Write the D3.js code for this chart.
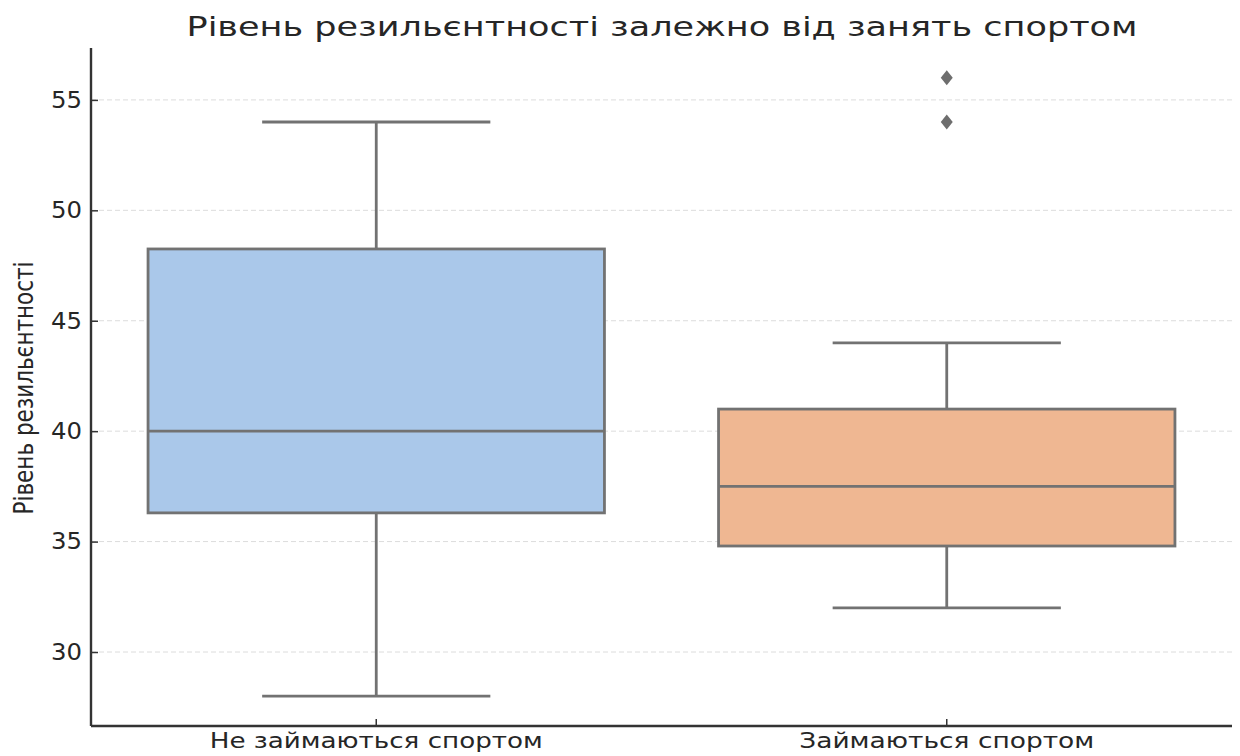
<!DOCTYPE html>
<html>
<head>
<meta charset="utf-8">
<script src="https://cdn.jsdelivr.net/npm/d3@7"></script>
<style>
  html, body { margin: 0; padding: 0; background: #fff; }
  svg { display: block; }
  text { font-family: "DejaVu Sans", sans-serif; fill: #262626; }
</style>
</head>
<body>
<svg id="chart" width="1240" height="756"></svg>
<script>
const title = "Рівень резильєнтності залежно від занять спортом";
const yLabel = "Рівень резильєнтності";
const categories = ["Не займаються спортом", "Займаються спортом"];
const whiskerLow  = [28, 32];
const q1          = [36.3, 34.8];
const median      = [40, 37.5];
const q3          = [48.25, 41];
const whiskerHigh = [54, 44];
const outliers    = [[], [56, 54]];
const boxColors   = ["#aac8ea", "#efb792"];
const yTicks      = [30, 35, 40, 45, 50, 55];
const yDomain     = [26.65, 57.35];

const svg = d3.select("#chart");
const mLeft = 91, mRight = 1232, mTop = 48, mBottom = 726;
const hStretch = 1.25;

const x = d3.scaleBand().domain(categories).range([mLeft, mRight]).padding(0);
const y = d3.scaleLinear().domain(yDomain).range([mBottom, mTop]);

// grid
svg.append("g").selectAll("line").data(yTicks).join("line")
  .attr("x1", mLeft).attr("x2", mRight)
  .attr("y1", d => y(d)).attr("y2", d => y(d))
  .attr("stroke", "#dcdcdc").attr("stroke-width", 1)
  .attr("stroke-dasharray", "5,3");

const edge = "#727272";
const lw = 2.8;
const bw = x.bandwidth() * 0.8;
const data = categories.map((c, i) => ({
  c, lo: whiskerLow[i], q1: q1[i], med: median[i], q3: q3[i], hi: whiskerHigh[i],
  out: outliers[i], color: boxColors[i]
}));

const g = svg.append("g");
data.forEach(d => {
  const cx = x(d.c) + x.bandwidth() / 2;
  g.append("line").attr("x1", cx).attr("x2", cx).attr("y1", y(d.q3)).attr("y2", y(d.hi))
    .attr("stroke", edge).attr("stroke-width", lw);
  g.append("line").attr("x1", cx).attr("x2", cx).attr("y1", y(d.q1)).attr("y2", y(d.lo))
    .attr("stroke", edge).attr("stroke-width", lw);
  [d.hi, d.lo].forEach(v => {
    g.append("line").attr("x1", cx - bw / 4).attr("x2", cx + bw / 4)
      .attr("y1", y(v)).attr("y2", y(v))
      .attr("stroke", edge).attr("stroke-width", lw);
  });
  g.append("rect").attr("x", cx - bw / 2).attr("width", bw)
    .attr("y", y(d.q3)).attr("height", y(d.q1) - y(d.q3))
    .attr("fill", d.color).attr("stroke", edge).attr("stroke-width", lw);
  g.append("line").attr("x1", cx - bw / 2).attr("x2", cx + bw / 2)
    .attr("y1", y(d.med)).attr("y2", y(d.med))
    .attr("stroke", edge).attr("stroke-width", lw);
  d.out.forEach(v => {
    g.append("path")
      .attr("d", `M${cx},${y(v) - 7.5} L${cx + 6},${y(v)} L${cx},${y(v) + 7.5} L${cx - 6},${y(v)} Z`)
      .attr("fill", "#6e6e6e");
  });
});

// axes
const yAxis = svg.append("g").attr("transform", `translate(${mLeft},0)`)
  .call(d3.axisLeft(y).tickValues(yTicks).tickSize(-7).tickPadding(16).tickFormat(d3.format("d")));
yAxis.select(".domain").attr("d", `M0,${mTop}V${mBottom}`).attr("stroke", "#333").attr("stroke-width", 2.4);
yAxis.selectAll(".tick line").attr("stroke", "#333").attr("stroke-width", 1.5);
yAxis.selectAll(".tick text").attr("font-size", 23).attr("fill", "#262626")
  .attr("font-family", "DejaVu Sans").attr("x", -9)
  .attr("textLength", 31).attr("lengthAdjust", "spacingAndGlyphs");

const xAxis = svg.append("g").attr("transform", `translate(0,${mBottom})`)
  .call(d3.axisBottom(x).tickSize(-7).tickPadding(8));
xAxis.select(".domain").attr("d", `M${mLeft},0H${mRight}`).attr("stroke", "#333").attr("stroke-width", 2.4);
xAxis.selectAll(".tick line").attr("stroke", "#333").attr("stroke-width", 1.5);
const xLabelWidths = [333, 295];
xAxis.selectAll(".tick text").attr("font-size", 21).attr("fill", "#262626")
  .attr("font-family", "DejaVu Sans").attr("dy", "0")
  .attr("y", 22)
  .attr("textLength", (d, i) => xLabelWidths[i]).attr("lengthAdjust", "spacingAndGlyphs");

// title
svg.append("text").attr("x", 662).attr("y", 36).attr("text-anchor", "middle")
  .attr("font-size", 27).attr("fill", "#333")
  .attr("textLength", 951).attr("lengthAdjust", "spacingAndGlyphs")
  .text(title);

// y label
svg.append("text")
  .attr("transform", `translate(33,388) scale(${hStretch},1) rotate(-90)`)
  .attr("text-anchor", "middle").attr("font-size", 21).attr("fill", "#262626")
  .attr("textLength", 253).attr("lengthAdjust", "spacingAndGlyphs")
  .text(yLabel);
</script>
</body>
</html>
